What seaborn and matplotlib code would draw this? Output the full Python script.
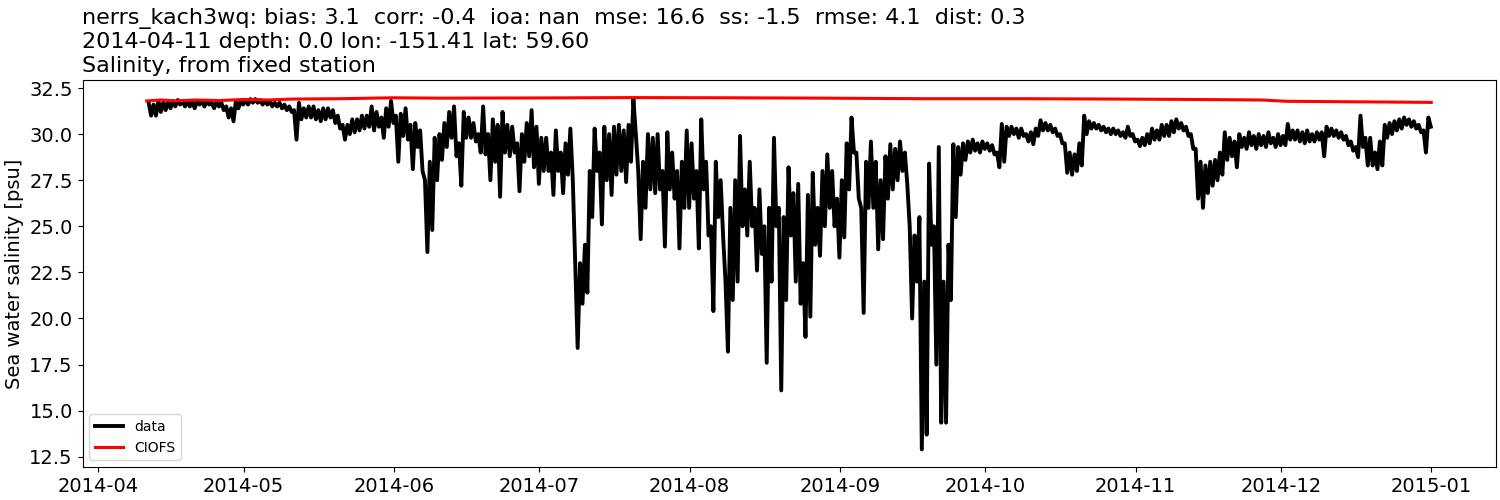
import pandas as pd
import seaborn as sns
import matplotlib.pyplot as plt

start = pd.Timestamp("2014-04-11")

# Observed salinity, daily high and low (psu), one entry per day from 2014-04-11
daily_high = [
    31.7, 31.6, 31.8, 31.7, 31.8, 31.8, 31.85, 31.8, 31.8, 31.75,
    31.8, 31.8, 31.8, 31.7, 31.75, 31.7, 31.5, 31.4, 31.8, 31.8,
    31.85, 31.9, 31.9, 31.85, 31.8, 31.8, 31.7, 31.7, 31.6, 31.5,
    31.3, 31.7, 31.4, 31.5, 31.5, 31.3, 31.4, 31.4, 31.3, 31.0,
    30.5, 30.5, 30.8, 30.8, 31.0, 31.0, 31.5, 31.2, 30.9, 31.4,
    31.8, 31.0, 31.1, 31.4, 30.5, 30.6, 30.2, 27.5, 28.5, 29.8,
    30.0, 30.6, 31.2, 31.5, 29.5, 31.2, 30.9, 30.6, 30.0, 31.5,
    30.0, 30.8, 30.5, 31.2, 30.5, 30.4, 29.5, 30.0, 30.6, 31.3,
    30.4, 29.8, 29.8, 29.0, 30.2, 29.0, 29.5, 30.3, 23.0, 23.0,
    24.0, 28.0, 30.3, 29.0, 30.4, 30.0, 30.4, 30.5, 30.2, 30.5,
    31.9, 28.0, 28.5, 30.0, 29.8, 30.0, 28.0, 30.1, 29.0, 28.0,
    28.5, 30.2, 29.5, 28.0, 30.8, 28.5, 25.0, 28.5, 27.5, 22.0,
    26.0, 27.5, 29.9, 27.0, 28.5, 26.0, 27.0, 25.0, 26.0, 29.8,
    26.0, 25.5, 28.2, 26.8, 27.3, 23.0, 26.7, 27.9, 26.0, 28.0,
    28.9, 28.0, 26.5, 27.5, 29.5, 30.9, 29.0, 26.0, 28.5, 29.6,
    28.5, 27.5, 28.8, 29.45, 29.2, 29.6, 29.0, 25.0, 24.5, 25.5,
    22.0, 28.4, 25.0, 29.3, 22.0, 24.0, 29.45, 29.3, 29.5, 29.6,
    29.7, 29.5, 29.6, 29.5, 29.4, 29.0, 30.55, 30.4, 30.4, 30.3,
    30.3, 30.0, 30.1, 30.3, 30.75, 30.6, 30.5, 30.3, 30.0, 29.5,
    29.0, 28.9, 29.5, 31.0, 30.7, 30.6, 30.5, 30.4, 30.3, 30.3,
    30.2, 30.1, 30.4, 30.0, 29.7, 29.8, 30.0, 30.3, 30.2, 30.5,
    30.5, 30.7, 30.8, 30.6, 30.4, 30.0, 29.2, 28.5, 28.3, 28.5,
    28.6, 29.0, 30.1, 29.8, 29.6, 30.0, 29.8, 30.1, 29.9, 30.0,
    29.9, 30.1, 29.8, 30.0, 29.9, 30.55, 30.2, 30.2, 30.1, 30.2,
    30.0, 30.1, 30.1, 30.4, 30.3, 30.2, 30.1, 29.9, 29.6, 29.3,
    31.0, 29.8, 29.8, 29.0, 29.6, 30.5, 30.6, 30.7, 30.8, 30.9,
    30.8, 30.7, 30.5, 30.2, 30.9,
]
daily_low = [
    31.0, 31.0, 31.2, 31.3, 31.4, 31.5, 31.6, 31.5, 31.5, 31.4,
    31.6, 31.5, 31.6, 31.4, 31.5, 31.3, 30.9, 30.7, 31.4, 31.6,
    31.6, 31.7, 31.7, 31.6, 31.6, 31.5, 31.5, 31.4, 31.3, 31.2,
    29.7, 30.8, 30.9, 30.9, 30.8, 30.7, 30.8, 30.9, 30.6, 30.3,
    29.7, 30.0, 30.1, 30.2, 30.3, 30.4, 30.2, 30.4, 29.8, 30.4,
    30.6, 28.5, 29.9, 29.7, 28.1, 29.3, 28.0, 23.6, 24.8, 27.5,
    28.6, 29.3, 29.8, 28.8, 27.2, 29.8, 29.8, 29.6, 29.0, 28.9,
    27.5, 28.5, 26.6, 29.0, 28.8, 29.0, 26.9, 28.5, 28.8, 28.2,
    27.3, 28.0, 28.0, 26.7, 28.0, 26.8, 27.8, 27.5, 18.4, 20.8,
    21.4, 25.5, 28.0, 25.1, 27.5, 26.7, 27.8, 28.0, 27.4, 28.5,
    30.0, 24.3, 26.0, 27.0, 26.8, 27.0, 23.9, 27.0, 26.5, 23.8,
    26.0, 26.0, 26.5, 23.8, 27.0, 24.5, 20.4, 25.5, 24.5, 18.2,
    21.0, 22.0, 25.0, 24.5, 25.0, 22.6, 23.5, 17.6, 22.0, 25.0,
    16.1, 21.0, 24.5, 22.0, 20.8, 19.0, 20.1, 24.0, 23.4, 25.0,
    26.0, 25.0, 23.3, 24.4, 27.0, 29.0, 26.5, 20.3, 26.0, 26.0,
    23.75, 24.3, 26.5, 27.0, 27.5, 28.0, 27.3, 20.0, 22.0, 12.9,
    13.7, 24.0, 17.5, 14.35, 14.35, 21.0, 25.5, 27.8, 28.6, 29.0,
    29.1, 29.0, 29.2, 29.1, 28.9, 28.2, 28.5, 29.9, 30.0, 29.8,
    29.9, 29.6, 29.45, 29.9, 30.2, 30.2, 30.1, 29.9, 29.5, 27.9,
    27.8, 28.0, 28.3, 30.0, 30.3, 30.3, 30.2, 30.1, 30.0, 30.0,
    29.9, 29.8, 29.9, 29.6, 29.35, 29.4, 29.5, 29.7, 29.7, 29.9,
    29.9, 30.1, 30.3, 30.2, 29.9, 29.2, 26.5, 26.0, 26.8, 27.2,
    27.5, 27.8, 28.6, 28.8, 28.2, 29.3, 29.2, 29.4, 29.2, 29.4,
    29.3, 29.5, 29.3, 29.4, 29.4, 29.7, 29.7, 29.6, 29.5, 29.6,
    29.6, 29.7, 28.8, 29.9, 29.9, 29.8, 29.7, 29.4, 29.1, 28.75,
    29.3, 28.3, 28.3, 28.1, 28.3, 29.8, 30.0, 30.2, 30.3, 30.5,
    30.4, 30.3, 30.1, 29.0, 30.4,
]

# CIOFS model salinity (days since 2014-04-11, psu)
model_day = [0, 3, 6, 10, 15, 20, 25, 30, 40, 51, 60, 80, 100, 120, 140, 160, 180, 200, 215, 230, 235, 245, 265]
model_val = [31.8, 31.85, 31.8, 31.85, 31.82, 31.88, 31.85, 31.9, 31.92, 31.97, 31.95, 31.96, 31.98,
             31.97, 31.95, 31.92, 31.92, 31.9, 31.88, 31.85, 31.78, 31.76, 31.72]

title_lines = [
    "nerrs_kach3wq: bias: 3.1  corr: -0.4  ioa: nan  mse: 16.6  ss: -1.5  rmse: 4.1  dist: 0.3",
    "2014-04-11 depth: 0.0 lon: -151.41 lat: 59.60",
    "Salinity, from fixed station",
]

# high and low of each day, half a day apart
obs_t, obs_v = [], []
for i, (hi, lo) in enumerate(zip(daily_high, daily_low)):
    obs_t += [i + 0.4, i + 0.9]
    obs_v += [hi, lo]

obs = pd.DataFrame({"time": start + pd.to_timedelta(obs_t, unit="D"), "salt": obs_v})
model = pd.DataFrame({"time": start + pd.to_timedelta(model_day, unit="D"), "salt": model_val})

fig, ax = plt.subplots(figsize=(15, 5), dpi=100)
fig.subplots_adjust(left=0.055, right=0.997, top=0.84, bottom=0.066)

sns.lineplot(data=obs, x="time", y="salt", color="black", lw=2.8, label="data", ax=ax, sort=False)
sns.lineplot(data=model, x="time", y="salt", color="red", lw=2.2, label="CIOFS", ax=ax, sort=False)

ax.set_title("\n".join(title_lines), loc="left", fontsize=16)
ax.set_xlabel("")
ax.set_ylabel("Sea water salinity [psu]", fontsize=14)
ax.tick_params(labelsize=14)
ax.legend(loc="lower left", fontsize=10)

fig.savefig("out.png")
